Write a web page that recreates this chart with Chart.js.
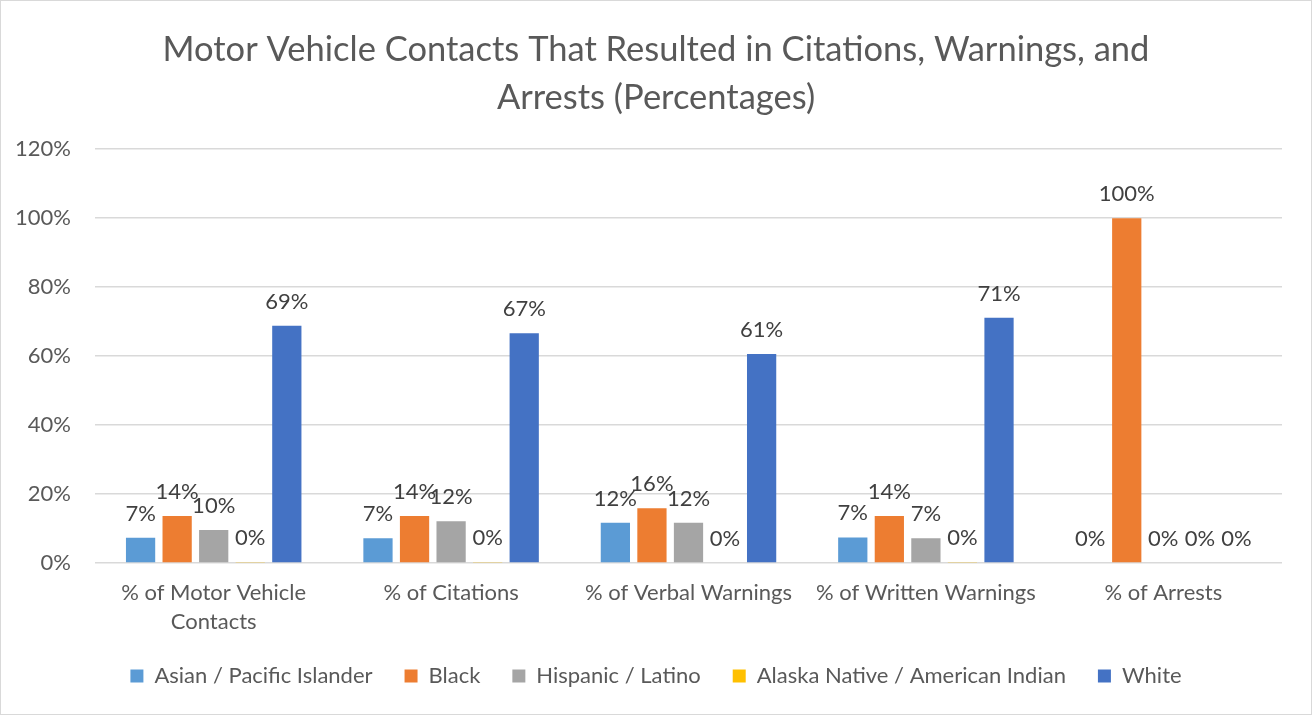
<!DOCTYPE html>
<html><head><meta charset="utf-8">
<script src="https://cdn.jsdelivr.net/npm/chart.js@4.4.1/dist/chart.umd.min.js"></script>
<style>
html,body{margin:0;padding:0;background:#fff;}
#wrap{width:1312px;height:715px;position:relative;}
canvas{display:block;}
</style></head><body>
<div id="wrap"><canvas id="c" width="1312" height="715"></canvas></div>
<script>
// Share of each outcome by race / ethnicity (percent)
const categories = [["% of Motor Vehicle", "Contacts"], "% of Citations", "% of Verbal Warnings", "% of Written Warnings", "% of Arrests"];
const asianPacific   = [7.3, 7.2, 11.7, 7.4, 0];
const black          = [13.6, 13.6, 15.9, 13.6, 100];
const hispanicLatino = [9.6, 12.1, 11.7, 7.2, 0];
const alaskaNative   = [0.3, 0.3, 0, 0.3, 0];
const white          = [68.8, 66.6, 60.6, 71.1, 0];
const seriesNames = ["Asian / Pacific Islander", "Black", "Hispanic / Latino", "Alaska Native / American Indian", "White"];
const seriesColors = ["#5B9BD5", "#ED7D31", "#A5A5A5", "#FFC000", "#4472C4"];
const yMax = 120, yStep = 20;

const FONT = "Lato, 'Open Sans', sans-serif";

// value text above every bar
const valueLabels = {
  id: 'valueLabels',
  afterDatasetsDraw(chart) {
    const ctx = chart.ctx;
    ctx.save();
    ctx.font = "22px " + FONT;
    ctx.fillStyle = "#404040";
    ctx.textAlign = "center";
    ctx.textBaseline = "alphabetic";
    chart.data.datasets.forEach((ds, i) => {
      chart.getDatasetMeta(i).data.forEach((bar, j) => {
        ctx.fillText(Math.round(ds.data[j]) + "%", bar.x, bar.y - 17);
      });
    });
    ctx.restore();
  }
};

// thin frame round the whole chart
const frame = {
  id: 'frame',
  afterDraw(chart) {
    const ctx = chart.ctx;
    ctx.save();
    ctx.strokeStyle = "#d9d9d9";
    ctx.lineWidth = 1;
    ctx.strokeRect(0.5, 0.5, chart.width - 1, chart.height - 1);
    ctx.restore();
  }
};

const datasets = [asianPacific, black, hispanicLatino, alaskaNative, white].map((d, i) => ({
  label: seriesNames[i],
  data: d,
  backgroundColor: seriesColors[i],
  borderWidth: 0,
  categoryPercentage: 0.77,
  barPercentage: 0.8
}));

new Chart(document.getElementById('c'), {
  type: 'bar',
  data: { labels: categories, datasets },
  options: {
    responsive: false,
    animation: false,
    devicePixelRatio: 1,
    layout: { padding: { left: 0, right: 0, top: 0, bottom: 18 } },
    plugins: {
      title: {
        display: true,
        text: ["Motor Vehicle Contacts That Resulted in Citations, Warnings, and", "Arrests (Percentages)"],
        color: "#595959",
        font: { family: FONT, size: 34.5, weight: 'normal', lineHeight: 1.38 },
        padding: { top: 26, bottom: 28 }
      },
      legend: {
        position: 'bottom',
        labels: {
          color: "#595959",
          font: { family: FONT, size: 22 },
          boxWidth: 13, boxHeight: 13,
          padding: 32
        }
      },
      tooltip: { enabled: false }
    },
    scales: {
      x: {
        grid: { display: false, drawTicks: false },
        border: { display: false },
        ticks: { color: "#595959", font: { family: FONT, size: 22, lineHeight: 1.3 }, padding: 16, maxRotation: 0, autoSkip: false },
        afterFit(scale) { scale.height = 70; }
      },
      y: {
        min: 0, max: yMax,
        grid: { color: "#d9d9d9", lineWidth: 1.5, drawTicks: false },
        border: { display: false },
        ticks: { stepSize: yStep, color: "#595959", font: { family: FONT, size: 22 }, padding: 24, callback: v => v + "%" },
        afterFit(scale) { scale.width = 95; }
      },
      // empty right-hand margin axis
      yRight: {
        position: 'right',
        display: true,
        grid: { display: false },
        border: { display: false },
        ticks: { display: false },
        afterFit(scale) { scale.width = 30; }
      }
    }
  },
  plugins: [valueLabels, frame]
});
</script>
</body></html>
